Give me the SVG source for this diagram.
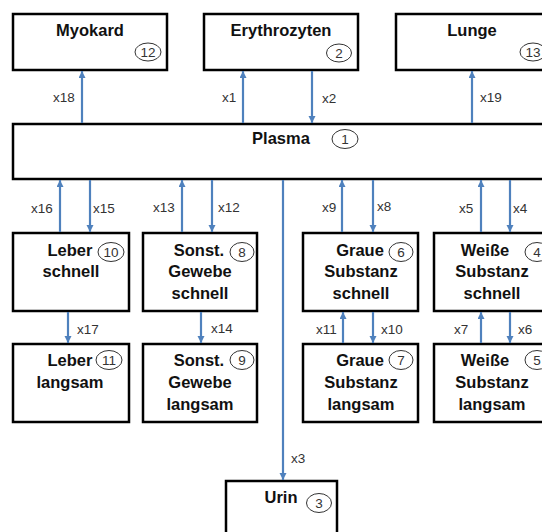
<svg xmlns="http://www.w3.org/2000/svg" width="542" height="532" viewBox="0 0 542 532">
<style>
.box{fill:#fff;stroke:#000;stroke-width:2.5}
.t{font-family:"Liberation Sans",Arial,sans-serif;font-weight:bold;font-size:16.5px;fill:#111;text-anchor:middle}
.n{fill:#fff;stroke:#333;stroke-width:1}
.nt{font-family:"Liberation Sans",Arial,sans-serif;font-size:13.5px;fill:#333;text-anchor:middle}
.c{stroke:#4f81bd;stroke-width:2.2;fill:none;marker-end:url(#ah)}
.l{font-family:"Liberation Sans",Arial,sans-serif;font-size:13.5px;fill:#333}
</style>
<defs>
<marker id="ah" markerUnits="userSpaceOnUse" markerWidth="8" markerHeight="8" refX="7" refY="3.5" orient="auto">
<path d="M0,0 L7,3.5 L0,7 z" fill="#4f81bd"/>
</marker>
</defs>
<rect width="542" height="532" fill="#fff"/>
<g id="myokard"><rect class="box" x="13" y="14" width="154" height="56"/><text class="t" x="90" y="36">Myokard</text><ellipse class="n" cx="148" cy="52" rx="13" ry="9"/><text class="nt" x="148" y="57">12</text></g>
<g id="erythrozyten"><rect class="box" x="204" y="14" width="154" height="56"/><text class="t" x="281" y="36">Erythrozyten</text><ellipse class="n" cx="339" cy="53" rx="12.5" ry="9"/><text class="nt" x="339" y="58">2</text></g>
<g id="lunge"><rect class="box" x="396" y="14" width="154" height="56"/><text class="t" x="472" y="36">Lunge</text><ellipse class="n" cx="533" cy="52" rx="13" ry="9"/><text class="nt" x="533" y="57">13</text></g>
<g id="plasma"><rect class="box" x="13" y="124" width="540" height="55"/><text class="t" x="281" y="144">Plasma</text><ellipse class="n" cx="345" cy="139" rx="13" ry="9.5"/><text class="nt" x="345" y="144">1</text></g>
<g id="leber-schnell"><rect class="box" x="13" y="233" width="116" height="78"/><text class="t" x="70" y="256">Leber</text><text class="t" x="71" y="277">schnell</text><ellipse class="n" cx="111" cy="252" rx="13" ry="9.5"/><text class="nt" x="111" y="257">10</text></g>
<g id="sonst-schnell"><rect class="box" x="143" y="233" width="114" height="78"/><text class="t" x="199" y="256">Sonst.</text><text class="t" x="200" y="277">Gewebe</text><text class="t" x="200" y="299">schnell</text><ellipse class="n" cx="242" cy="252" rx="12" ry="9.5"/><text class="nt" x="242" y="257">8</text></g>
<g id="graue-schnell"><rect class="box" x="303" y="233" width="115" height="78"/><text class="t" x="360" y="256">Graue</text><text class="t" x="361" y="277">Substanz</text><text class="t" x="361" y="299">schnell</text><ellipse class="n" cx="401" cy="252" rx="12" ry="9.5"/><text class="nt" x="401" y="257">6</text></g>
<g id="weisse-schnell"><rect class="box" x="434" y="233" width="116" height="78"/><text class="t" x="485" y="256">Weiße</text><text class="t" x="492" y="277">Substanz</text><text class="t" x="492" y="299">schnell</text><ellipse class="n" cx="537" cy="252" rx="12" ry="9.5"/><text class="nt" x="537" y="257">4</text></g>
<g id="leber-langsam"><rect class="box" x="13" y="344" width="116" height="78"/><text class="t" x="70" y="366">Leber</text><text class="t" x="70" y="388">langsam</text><ellipse class="n" cx="109" cy="360" rx="13" ry="9.5"/><text class="nt" x="109" y="365">11</text></g>
<g id="sonst-langsam"><rect class="box" x="143" y="344" width="114" height="78"/><text class="t" x="199" y="366">Sonst.</text><text class="t" x="200" y="388">Gewebe</text><text class="t" x="200" y="410">langsam</text><ellipse class="n" cx="242" cy="360" rx="12" ry="9.5"/><text class="nt" x="242" y="365">9</text></g>
<g id="graue-langsam"><rect class="box" x="303" y="344" width="115" height="78"/><text class="t" x="360" y="366">Graue</text><text class="t" x="361" y="388">Substanz</text><text class="t" x="361" y="410">langsam</text><ellipse class="n" cx="401" cy="360" rx="12" ry="9.5"/><text class="nt" x="401" y="365">7</text></g>
<g id="weisse-langsam"><rect class="box" x="434" y="344" width="116" height="78"/><text class="t" x="485" y="366">Weiße</text><text class="t" x="492" y="388">Substanz</text><text class="t" x="492" y="410">langsam</text><ellipse class="n" cx="537" cy="360" rx="12" ry="9.5"/><text class="nt" x="537" y="365">5</text></g>
<g id="urin"><rect class="box" x="226" y="481" width="111" height="60"/><text class="t" x="281" y="503">Urin</text><ellipse class="n" cx="319" cy="503" rx="12.5" ry="9.5"/><text class="nt" x="319" y="508">3</text></g>
<g id="connectors">
<line class="c" x1="82" y1="123" x2="82" y2="71"/>
<line class="c" x1="243" y1="123" x2="243" y2="71"/>
<line class="c" x1="312" y1="71" x2="312" y2="123"/>
<line class="c" x1="472" y1="123" x2="472" y2="71"/>
<line class="c" x1="60" y1="232" x2="60" y2="180"/>
<line class="c" x1="90" y1="180" x2="90" y2="232"/>
<line class="c" x1="182" y1="232" x2="182" y2="180"/>
<line class="c" x1="212" y1="180" x2="212" y2="232"/>
<line class="c" x1="342" y1="232" x2="342" y2="180"/>
<line class="c" x1="373" y1="180" x2="373" y2="232"/>
<line class="c" x1="481" y1="232" x2="481" y2="180"/>
<line class="c" x1="510" y1="180" x2="510" y2="232"/>
<line class="c" x1="68" y1="312" x2="68" y2="343"/>
<line class="c" x1="201" y1="312" x2="201" y2="343"/>
<line class="c" x1="343" y1="343" x2="343" y2="312"/>
<line class="c" x1="373" y1="312" x2="373" y2="343"/>
<line class="c" x1="481" y1="343" x2="481" y2="312"/>
<line class="c" x1="510" y1="312" x2="510" y2="343"/>
<line class="c" x1="283" y1="180" x2="283" y2="480"/>
<text class="l" x="53" y="102">x18</text>
<text class="l" x="222" y="102">x1</text>
<text class="l" x="322" y="103">x2</text>
<text class="l" x="480" y="102">x19</text>
<text class="l" x="31" y="213">x16</text>
<text class="l" x="93" y="213">x15</text>
<text class="l" x="153" y="212">x13</text>
<text class="l" x="218" y="212">x12</text>
<text class="l" x="322" y="212">x9</text>
<text class="l" x="377" y="211">x8</text>
<text class="l" x="459" y="213">x5</text>
<text class="l" x="513" y="213">x4</text>
<text class="l" x="77" y="334">x17</text>
<text class="l" x="211" y="333">x14</text>
<text class="l" x="316" y="334">x11</text>
<text class="l" x="381" y="334">x10</text>
<text class="l" x="454" y="334">x7</text>
<text class="l" x="518" y="334">x6</text>
<text class="l" x="291" y="463">x3</text>
</g>
</svg>
